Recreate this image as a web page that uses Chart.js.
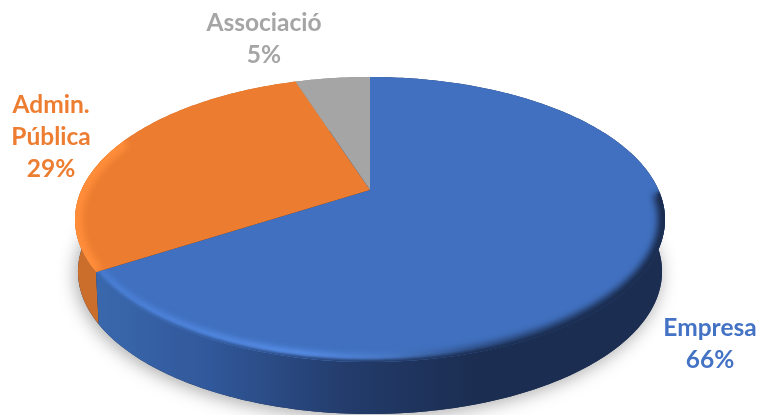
<!DOCTYPE html>
<html>
<head>
<meta charset="utf-8">
<title>Pie</title>
<script src="https://cdn.jsdelivr.net/npm/chart.js@4"></script>
<style>
  html, body { margin: 0; padding: 0; background: #fff; }
  canvas { display: block; }
</style>
</head>
<body>
<canvas id="pieChart" width="760" height="415"></canvas>
<script>
const categories = ["Empresa", "Admin. Pública", "Associació"];
const shareValues = [66, 29, 5];
const labelLines = [["Empresa"], ["Admin.", "Pública"], ["Associació"]];
const sliceColors = ["#4070bf", "#ec7c30", "#a5a5a5"];
const labelColors = ["#4472c4", "#ed7d31", "#a5a5a5"];
// x centre and first baseline of each label
const labelSpots = [[710, 336], [51, 113], [264, 31]];

// pie plane seen in perspective, the apex sits above the ellipse centre
const CX = 370, CY = 190, R = 288.6, H = 136.4, K = 0.207, DEPTH = 52;

function rimPoint(angle, drop) {
  const w = 1 - K * Math.sin(angle);
  const x = (R * Math.cos(angle)) / w;
  const y = CY + (H * Math.sin(angle)) / w;
  return drop ? [CX + x * 0.99, y + DEPTH] : [CX + x, y];
}

function traceRim(ctx, from, to, drop, first) {
  const steps = Math.max(2, Math.ceil(Math.abs(to - from) * 60));
  for (let i = 0; i <= steps; i++) {
    const p = rimPoint(from + ((to - from) * i) / steps, drop);
    if (i === 0 && first) ctx.moveTo(p[0], p[1]);
    else ctx.lineTo(p[0], p[1]);
  }
}

function sideFill(ctx, index) {
  const g = ctx.createLinearGradient(95, 0, 480, 0);
  if (index === 0) {
    g.addColorStop(0, "#3a68ad");
    g.addColorStop(0.3, "#31589a");
    g.addColorStop(0.65, "#233c6c");
    g.addColorStop(1, "#1b2d50");
    return g;
  }
  return index === 1 ? "#cc6e2b" : "#8c8c8c";
}

function bevelStroke(ctx, index) {
  if (index === 1) return "#ff8d3a";
  const g = ctx.createLinearGradient(100, 0, 665, 0);
  g.addColorStop(0, "#4a80d8");
  g.addColorStop(0.35, "#5b94f0");
  g.addColorStop(0.5, "#4c7dcc");
  g.addColorStop(0.66, "#2c4b80");
  g.addColorStop(0.85, "#1e3359");
  g.addColorStop(1, "#1b2d50");
  return g;
}

const tiltedPie = {
  id: "tiltedPie",
  beforeDatasetDraw(chart, args) {
    const ctx = chart.ctx;
    const arcs = args.meta.data;

    // soft shadow under the disc
    ctx.save();
    ctx.shadowColor = "rgba(0,0,0,0.34)";
    ctx.shadowBlur = 18;
    ctx.shadowOffsetX = -2;
    ctx.shadowOffsetY = 3;
    ctx.fillStyle = "#1b2d50";
    ctx.beginPath();
    traceRim(ctx, 0, Math.PI * 2, true, true);
    ctx.closePath();
    ctx.fill();
    ctx.restore();

    // walls, then faces on top of them
    [2, 1, 0].forEach((i) => {
      const a = arcs[i];
      ctx.fillStyle = sideFill(ctx, i);
      ctx.beginPath();
      traceRim(ctx, a.startAngle, a.endAngle, false, true);
      traceRim(ctx, a.endAngle, a.startAngle, true, false);
      ctx.closePath();
      ctx.fill();
    });

    arcs.forEach((a, i) => {
      ctx.save();
      ctx.beginPath();
      ctx.moveTo(CX, CY);
      traceRim(ctx, a.startAngle, a.endAngle, false, false);
      ctx.closePath();
      ctx.fillStyle = a.options.backgroundColor;
      ctx.fill();
      ctx.clip();

      // bevel along the front edge
      const from = i === 0 ? 0.02 : a.startAngle;
      const to = i === 1 ? Math.PI + 0.4 : a.endAngle;
      if (i !== 2) {
        ctx.filter = "blur(3px)";
        ctx.strokeStyle = bevelStroke(ctx, i);
        ctx.lineWidth = 15;
        ctx.beginPath();
        traceRim(ctx, from, to, false, true);
        ctx.stroke();
      }
      if (i === 0) {
        // the very edge falls away into the wall colour
        ctx.filter = "blur(1.5px)";
        ctx.strokeStyle = sideFill(ctx, 0);
        ctx.lineWidth = 5;
        ctx.beginPath();
        traceRim(ctx, from, to, false, true);
        ctx.stroke();
      }
      ctx.restore();
    });

    return false; // faces are done, skip the flat arcs
  },
  afterDraw(chart) {
    const ctx = chart.ctx;
    const total = shareValues.reduce((s, v) => s + v, 0);
    ctx.save();
    ctx.font = "bold 24.5px Lato, Carlito, sans-serif";
    ctx.textAlign = "center";
    ctx.textBaseline = "alphabetic";
    labelLines.forEach((lines, i) => {
      const rows = lines.concat(Math.round((shareValues[i] / total) * 100) + "%");
      ctx.fillStyle = labelColors[i];
      rows.forEach((row, r) => {
        ctx.fillText(row, labelSpots[i][0], labelSpots[i][1] + r * 32);
      });
    });
    ctx.restore();
  },
};

new Chart(document.getElementById("pieChart"), {
  type: "pie",
  data: {
    labels: categories,
    datasets: [{ data: shareValues, backgroundColor: sliceColors, borderWidth: 0 }],
  },
  options: {
    responsive: false,
    animation: false,
    plugins: { legend: { display: false }, tooltip: { enabled: false } },
  },
  plugins: [tiltedPie],
});
</script>
</body>
</html>
